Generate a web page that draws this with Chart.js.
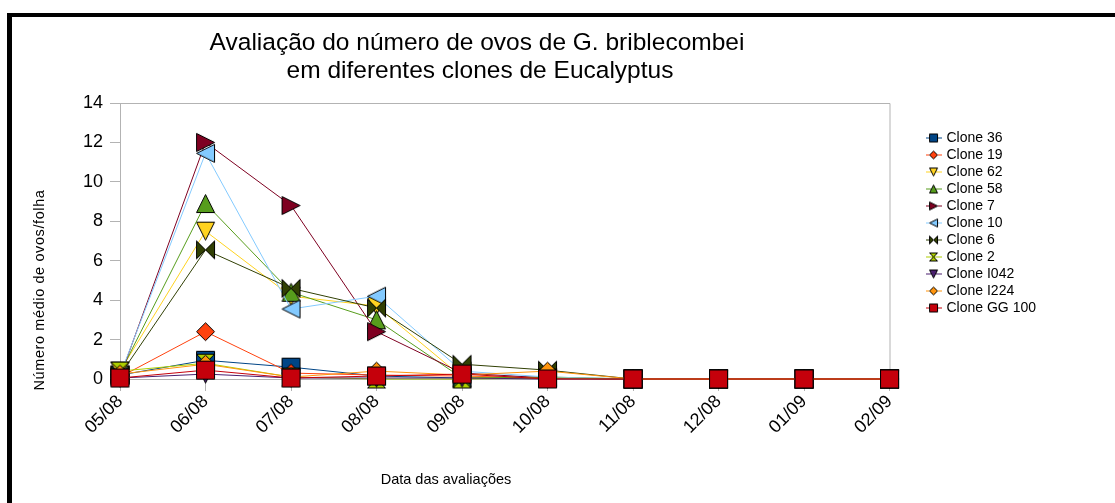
<!DOCTYPE html>
<html><head><meta charset="utf-8">
<script src="https://cdn.jsdelivr.net/npm/chart.js@4/dist/chart.umd.min.js"></script>
<style>
html,body{margin:0;padding:0;background:#fff;}
#wrap{position:relative;width:1115px;height:503px;overflow:hidden;background:#fff;}
#frame{position:absolute;left:7px;top:13px;width:1200px;height:600px;border-top:4px solid #000;border-left:5px solid #000;pointer-events:none;}
canvas{position:absolute;left:0;top:0;}
</style></head><body>
<div id="wrap"><canvas id="c" width="1115" height="503"></canvas><div id="frame"></div></div>
<script>
const chartTitle = ['Avaliação do número de ovos de G. briblecombei', 'em diferentes clones de Eucalyptus'];
const xTitle = 'Data das avaliações';
const yTitle = 'Número médio de ovos/folha';
const categories = ['05/08','06/08','07/08','08/08','09/08','10/08','11/08','12/08','01/09','02/09'];
const yTicks = [0, 2, 4, 6, 8, 10, 12, 14];
const seriesNames = ['Clone 36','Clone 19','Clone 62','Clone 58','Clone 7','Clone 10','Clone 6','Clone 2','Clone I042','Clone I224','Clone GG 100'];
const clone36  = [0.2, 0.95, 0.6, 0.15, 0.05, 0.05, 0, 0, 0, 0];
const clone19  = [0.1, 2.4, 0.3, 0.2, 0.15, 0.05, 0, 0, 0, 0];
const clone62  = [0.4, 7.5, 4.2, 3.7, 0.1, 0.05, 0, 0, 0, 0];
const clone58  = [0.3, 8.9, 4.4, 3.0, 0.05, 0.1, 0, 0, 0, 0];
const clone7   = [0.1, 12.0, 8.8, 2.4, 0.3, 0.05, 0, 0, 0, 0];
const clone10  = [0.2, 11.45, 3.55, 4.2, 0.4, 0.1, 0, 0, 0, 0];
const clone6   = [0.2, 6.55, 4.6, 3.6, 0.75, 0.45, 0, 0, 0, 0];
const clone2   = [0.4, 0.8, 0.1, 0.0, 0.0, 0.05, 0, 0, 0, 0];
const cloneI042 = [0.05, 0.25, 0.05, 0.05, 0.05, 0.0, 0, 0, 0, 0];
const cloneI224 = [0.25, 0.75, 0.1, 0.4, 0.2, 0.4, 0, 0, 0, 0];
const cloneGG100 = [0.05, 0.45, 0.05, 0.15, 0.25, 0.0, 0, 0, 0, 0];
const seriesValues = [clone36, clone19, clone62, clone58, clone7, clone10, clone6, clone2, cloneI042, cloneI224, cloneGG100];
const colors = ['#004586','#ff420e','#ffd320','#579d1c','#7e0021','#83caff','#314004','#aecf00','#4b1f6f','#ff950e','#c5000b'];
const shapes = ['square','diamond','down','up','right','left','bowtie','sandglass','down','diamond','square'];

function drawShape(ctx, shape, o, s) {
  const c = o + s / 2, e = o + s;
  ctx.beginPath();
  switch (shape) {
    case 'square': ctx.rect(o, o, s, s); break;
    case 'diamond': ctx.moveTo(c, o); ctx.lineTo(e, c); ctx.lineTo(c, e); ctx.lineTo(o, c); ctx.closePath(); break;
    case 'down': ctx.moveTo(o, o); ctx.lineTo(e, o); ctx.lineTo(c, e); ctx.closePath(); break;
    case 'up': ctx.moveTo(c, o); ctx.lineTo(e, e); ctx.lineTo(o, e); ctx.closePath(); break;
    case 'right': ctx.moveTo(o, o); ctx.lineTo(e, c); ctx.lineTo(o, e); ctx.closePath(); break;
    case 'left': ctx.moveTo(e, o); ctx.lineTo(o, c); ctx.lineTo(e, e); ctx.closePath(); break;
    case 'bowtie': ctx.moveTo(o, o); ctx.lineTo(c, c); ctx.lineTo(o, e); ctx.closePath();
                   ctx.moveTo(e, o); ctx.lineTo(c, c); ctx.lineTo(e, e); ctx.closePath(); break;
    case 'sandglass': ctx.moveTo(o, o); ctx.lineTo(e, o); ctx.lineTo(c, c); ctx.closePath();
                      ctx.moveTo(o, e); ctx.lineTo(e, e); ctx.lineTo(c, c); ctx.closePath(); break;
  }
  ctx.fill(); ctx.stroke();
}
function markerCanvas(shape, color, s) {
  const cv = document.createElement('canvas');
  cv.width = s + 3; cv.height = s + 3;
  const ctx = cv.getContext('2d');
  ctx.fillStyle = color; ctx.strokeStyle = '#000'; ctx.lineWidth = 1;
  drawShape(ctx, shape, 1.5, s);
  return cv;
}
function legendCanvas(shape, color) {
  const cv = document.createElement('canvas');
  cv.width = 16; cv.height = 11;
  const ctx = cv.getContext('2d');
  ctx.strokeStyle = color; ctx.lineWidth = 1;
  ctx.beginPath(); ctx.moveTo(0, 5.5); ctx.lineTo(16, 5.5); ctx.stroke();
  ctx.fillStyle = color; ctx.strokeStyle = '#000';
  ctx.save(); ctx.translate(3.5, 1.5);
  drawShape(ctx, shape, 0, 8);
  ctx.restore();
  return cv;
}
const pointImgs = shapes.map((sh, i) => markerCanvas(sh, colors[i], 18));
const legendImgs = shapes.map((sh, i) => legendCanvas(sh, colors[i]));

const datasets = seriesNames.map((name, i) => ({
  label: name,
  data: seriesValues[i],
  borderColor: colors[i],
  backgroundColor: colors[i],
  borderWidth: 1,
  pointStyle: pointImgs[i],
  pointRadius: 9,
  pointHoverRadius: 9,
  tension: 0,
  clip: false,
  order: seriesNames.length - i
}));

const FONT = '"Liberation Sans", Arial, sans-serif';
Chart.defaults.font.family = FONT;
Chart.defaults.color = '#000';

const frameAndText = {
  id: 'frameAndText',
  beforeDatasetsDraw(chart) {
    const {ctx, chartArea: a} = chart;
    ctx.save();
    ctx.strokeStyle = '#b3b3b3'; ctx.lineWidth = 1;
    ctx.beginPath();
    ctx.moveTo(a.left, a.top + 0.5); ctx.lineTo(a.right + 0.5, a.top + 0.5); ctx.lineTo(a.right + 0.5, a.bottom);
    ctx.stroke();
    ctx.restore();
  },
  afterDraw(chart) {
    const ctx = chart.ctx;
    ctx.save();
    ctx.fillStyle = '#000';
    ctx.textAlign = 'center'; ctx.textBaseline = 'middle';
    ctx.font = '24.5px ' + FONT;
    ctx.fillText(chartTitle[0], 477, 43);
    ctx.fillText(chartTitle[1], 480, 71);
    ctx.font = '14.5px ' + FONT;
    ctx.fillText(xTitle, 446, 480);
    ctx.translate(40, 290); ctx.rotate(-Math.PI / 2);
    if ('letterSpacing' in ctx) ctx.letterSpacing = '0.6px';
    ctx.fillText(yTitle, 0, 0);
    ctx.restore();
  }
};

new Chart(document.getElementById('c'), {
  type: 'line',
  data: { labels: categories, datasets },
  options: {
    responsive: false,
    animation: false,
    devicePixelRatio: 1,
    layout: { padding: { top: 103, right: 69, bottom: 0, left: 0 } },
    plugins: {
      title: { display: false },
      tooltip: { enabled: false },
      legend: {
        position: 'right',
        align: 'start',
        title: { display: true, text: '', font: { size: 10, lineHeight: '10px' }, padding: { top: 15, bottom: 0 } },
        labels: {
          usePointStyle: true,
          pointStyleWidth: 11,
          padding: 3,
          font: { size: 14 },
          color: '#000',
          sort: (a, b) => a.datasetIndex - b.datasetIndex,
          generateLabels: (chart) => Chart.defaults.plugins.legend.labels.generateLabels(chart).map(l => Object.assign(l, { pointStyle: legendImgs[l.datasetIndex] }))
        }
      }
    },
    scales: {
      x: {
        offset: false,
        grid: { display: true, drawOnChartArea: false, drawTicks: true, tickLength: 12, color: '#b3b3b3' },
        border: { display: true, color: '#b3b3b3' },
        ticks: { minRotation: 45, maxRotation: 45, padding: 0, autoSkip: false, font: { size: 18 }, color: '#000' },
        afterFit: (s) => { s.height = 124; }
      },
      y: {
        min: 0, max: 14,
        grid: { display: true, drawOnChartArea: false, drawTicks: true, tickLength: 10, color: '#b3b3b3' },
        border: { display: true, color: '#b3b3b3' },
        ticks: { stepSize: 2, padding: 7, font: { size: 18 }, color: '#000' },
        afterBuildTicks: (s) => { s.ticks = yTicks.map(v => ({ value: v })); },
        afterFit: (s) => { s.width = 120; }
      },
      y2: {
        position: 'right',
        display: true,
        grid: { display: false },
        border: { display: false },
        ticks: { display: false },
        afterFit: (s) => { s.width = 36; }
      }
    }
  },
  plugins: [frameAndText]
});
</script>
</body></html>
